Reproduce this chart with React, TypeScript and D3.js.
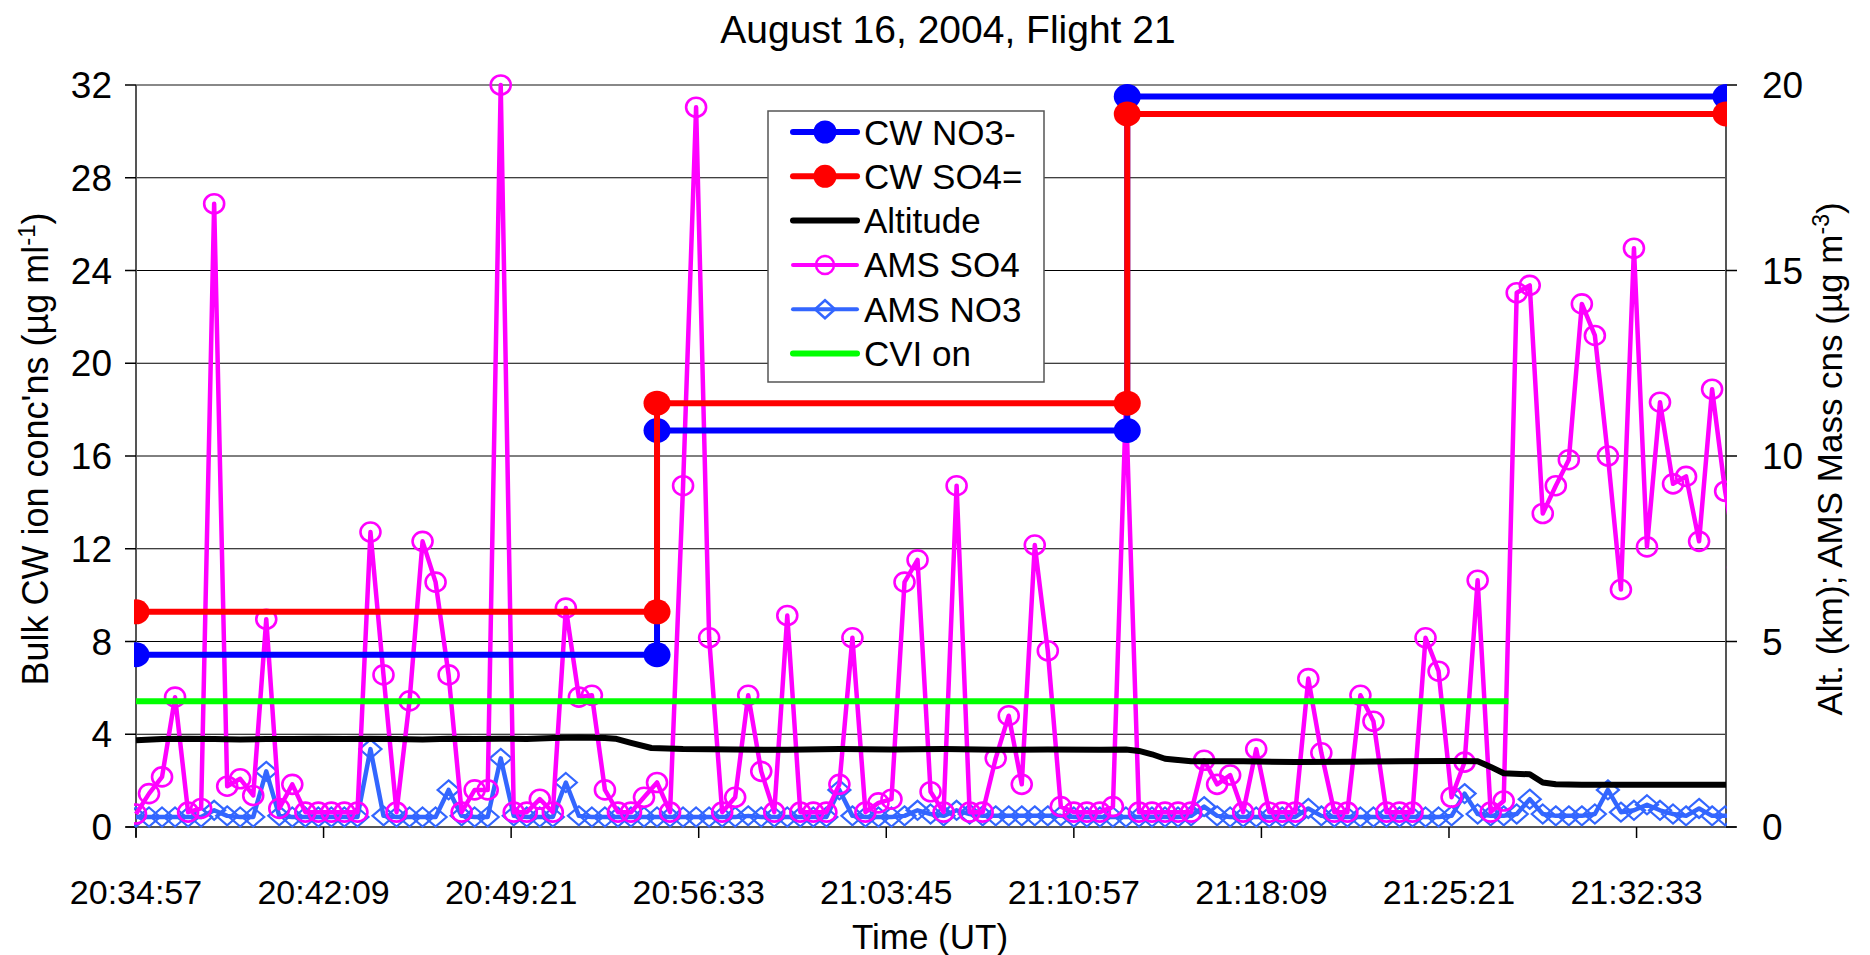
import React from "react";
import * as d3 from "d3";

// ---------------- data ----------------
const xTickLabels = ["20:34:57", "20:42:09", "20:49:21", "20:56:33", "21:03:45", "21:10:57", "21:18:09", "21:25:21", "21:32:33"];
const xDomainLabels = ["20:34:57", "21:35:59"];
const leftTicks = [0, 4, 8, 12, 16, 20, 24, 28, 32];
const rightTicks = [0, 5, 10, 15, 20];

// bulk cloud water (left axis), step changes
const cwTimes = ["20:34:57", "20:54:57", "21:13:00", "21:35:59"];
const cwNO3 = [7.43, 17.1, 31.5];
const cwSO4 = [9.28, 18.28, 30.75];

// CVI on indicator (left axis)
const cviTimes = ["20:34:57", "21:27:38"];
const cviLevel = [5.42, 5.42];

// AMS (right axis), 30 s samples starting at amsStart
const amsStart = "20:34:57";
const amsStepSec = 30;
const amsSO4 = [
  0.35, 0.9, 1.35, 3.5, 0.4, 0.5, 16.8, 1.1, 1.3, 0.85,
  5.6, 0.5, 1.15, 0.4, 0.4, 0.4, 0.4, 0.4, 7.95, 4.1,
  0.4, 3.4, 7.7, 6.6, 4.1, 0.4, 1.0, 1.0, 20.0, 0.4,
  0.4, 0.75, 0.4, 5.9, 3.5, 3.55, 1.0, 0.4, 0.4, 0.8,
  1.2, 0.4, 9.2, 19.4, 5.1, 0.4, 0.8, 3.55, 1.5, 0.4,
  5.7, 0.4, 0.4, 0.4, 1.15, 5.1, 0.4, 0.65, 0.75, 6.6,
  7.2, 0.95, 0.4, 9.2, 0.4, 0.4, 1.85, 3.0, 1.15, 7.6,
  4.75, 0.55, 0.4, 0.4, 0.4, 0.55, 11.4, 0.4, 0.4, 0.4,
  0.4, 0.4, 1.8, 1.15, 1.4, 0.4, 2.1, 0.4, 0.4, 0.4,
  4.0, 2.0, 0.4, 0.4, 3.55, 2.85, 0.4, 0.4, 0.4, 5.1,
  4.2, 0.8, 1.75, 6.65, 0.4, 0.7, 14.4, 14.6, 8.45, 9.2,
  9.9, 14.1, 13.25, 10.0, 6.4, 15.6, 7.55, 11.45, 9.25, 9.45,
  7.7, 11.8, 9.05, 7.0,
];
const amsNO3 = [
  0.27, 0.27, 0.27, 0.27, 0.27, 0.27, 0.45, 0.3, 0.27, 0.27,
  1.5, 0.3, 0.27, 0.27, 0.27, 0.27, 0.27, 0.27, 2.1, 0.3,
  0.27, 0.27, 0.27, 0.27, 1.0, 0.3, 0.27, 0.27, 1.85, 0.3,
  0.27, 0.27, 0.27, 1.2, 0.3, 0.27, 0.27, 0.27, 0.27, 0.27,
  0.27, 0.27, 0.27, 0.27, 0.27, 0.27, 0.27, 0.3, 0.27, 0.27,
  0.27, 0.27, 0.27, 0.27, 1.0, 0.3, 0.27, 0.27, 0.27, 0.3,
  0.45, 0.35, 0.3, 0.45, 0.35, 0.3, 0.3, 0.3, 0.3, 0.3,
  0.3, 0.3, 0.27, 0.27, 0.27, 0.27, 0.27, 0.27, 0.27, 0.27,
  0.27, 0.3, 0.55, 0.3, 0.27, 0.27, 0.27, 0.27, 0.27, 0.27,
  0.5, 0.3, 0.27, 0.27, 0.27, 0.27, 0.27, 0.27, 0.27, 0.27,
  0.27, 0.3, 0.9, 0.35, 0.3, 0.3, 0.35, 0.75, 0.35, 0.3,
  0.3, 0.3, 0.35, 1.0, 0.4, 0.45, 0.6, 0.45, 0.35, 0.3,
  0.5, 0.3, 0.3, 0.3,
];

// altitude (km, right axis)
const altTimes = [
  "20:34:57", "20:35:57", "20:36:57", "20:37:57", "20:38:57", "20:39:57", "20:40:57", "20:41:57",
  "20:42:57", "20:43:57", "20:44:57", "20:45:57", "20:46:57", "20:47:57", "20:48:57", "20:49:57",
  "20:50:57", "20:51:57", "20:52:57", "20:53:21", "20:53:57", "20:54:44", "20:55:57", "20:57:57",
  "20:59:57", "21:01:57", "21:03:57", "21:05:57", "21:07:57", "21:09:57", "21:11:57", "21:12:57",
  "21:13:27", "21:13:57", "21:14:27", "21:15:27", "21:17:27", "21:19:27", "21:21:27", "21:23:27",
  "21:25:27", "21:26:27", "21:26:57", "21:27:27", "21:28:27", "21:28:57", "21:29:27", "21:30:27",
  "21:32:27", "21:34:27", "21:35:59",
];
const altKm = [
  2.34, 2.37, 2.38, 2.37, 2.36, 2.37, 2.37, 2.38,
  2.37, 2.38, 2.37, 2.36, 2.38, 2.37, 2.38, 2.37,
  2.4, 2.41, 2.4, 2.38, 2.27, 2.13, 2.1, 2.09,
  2.08, 2.1, 2.09, 2.1, 2.08, 2.09, 2.08, 2.09,
  2.05, 1.96, 1.84, 1.77, 1.77, 1.75, 1.76, 1.77,
  1.78, 1.77, 1.62, 1.45, 1.42, 1.2, 1.15, 1.14,
  1.14, 1.14, 1.14,
];

// ---------------- layout ----------------
const W = 1870;
const H = 955;
const PL = 136, PR = 1726, PT = 85, PB = 827;
const FONT = "'Liberation Sans', Arial, sans-serif";

const toSec = (s: string) => {
  const [h, m, sec] = s.split(":").map(Number);
  return h * 3600 + m * 60 + sec;
};

const x = d3.scaleLinear().domain(xDomainLabels.map(toSec)).range([PL, PR]);
const yL = d3.scaleLinear().domain([0, 32]).range([PB, PT]);
const yR = d3.scaleLinear().domain([0, 20]).range([PB, PT]);

type P = [number, number];

function stepPoints(times: string[], vals: number[]): P[] {
  const pts: P[] = [];
  vals.forEach((v, i) => {
    pts.push([toSec(times[i]), v]);
    pts.push([toSec(times[i + 1]), v]);
  });
  return pts;
}

const amsT0 = toSec(amsStart);
const so4Pts: P[] = amsSO4.map((v, i) => [amsT0 + i * amsStepSec, v]);
const no3Pts: P[] = amsNO3.map((v, i) => [amsT0 + i * amsStepSec, v]);
const altPts: P[] = altKm.map((v, i) => [toSec(altTimes[i]), v]);

const lineL = d3.line<P>().x((d) => x(d[0])).y((d) => yL(d[1]));
const lineR = d3.line<P>().x((d) => x(d[0])).y((d) => yR(d[1]));

const CW_NO3_C = "#0000FF";
const CW_SO4_C = "#FF0000";
const AMS_SO4_C = "#FF00FF";
const AMS_NO3_C = "#3366FF";
const CVI_C = "#00FF00";

const diamond = (cx: number, cy: number, w = 11, h = 9.5) =>
  `M${cx},${cy - h}L${cx + w},${cy}L${cx},${cy + h}L${cx - w},${cy}Z`;

const legendItems = [
  { label: "CW NO3-", color: CW_NO3_C, marker: "dot", width: 6 },
  { label: "CW SO4=", color: CW_SO4_C, marker: "dot", width: 6 },
  { label: "Altitude", color: "#000000", marker: "none", width: 6 },
  { label: "AMS SO4", color: AMS_SO4_C, marker: "circle", width: 4 },
  { label: "AMS NO3", color: AMS_NO3_C, marker: "diamond", width: 4 },
  { label: "CVI on", color: CVI_C, marker: "none", width: 6 },
];

export default function App() {
  const no3Step = stepPoints(cwTimes, cwNO3);
  const so4Step = stepPoints(cwTimes, cwSO4);
  const cviPts: P[] = cviLevel.map((v, i) => [toSec(cviTimes[i]), v]);

  return (
    <svg
      width={W}
      height={H}
      style={{ position: "absolute", left: 0, top: 0, background: "#fff" }}
      fontFamily={FONT}
    >
      <rect x={0} y={0} width={W} height={H} fill="#fff" />
      <defs>
        <clipPath id="plot">
          <rect x={PL - 2} y={PT - 20} width={PR - PL + 3} height={PB - PT + 40} />
        </clipPath>
      </defs>

      {/* title */}
      <text x={948} y={43} textAnchor="middle" fontSize={39}>
        August 16, 2004, Flight 21
      </text>

      {/* gridlines */}
      {leftTicks.slice(1).map((t) => (
        <line key={"g" + t} x1={PL} x2={PR} y1={yL(t)} y2={yL(t)} stroke={t === 32 ? "#888" : "#000"} strokeWidth={t === 32 ? 2 : 1} />
      ))}

      {/* axes */}
      <line x1={PL} x2={PL} y1={PT} y2={PB + 10} stroke="#555" strokeWidth={2} />
      <line x1={PR} x2={PR} y1={PT} y2={PB} stroke="#555" strokeWidth={2} />
      <line x1={PL - 10} x2={PR + 10} y1={PB} y2={PB} stroke="#555" strokeWidth={2} />
      {leftTicks.map((t) => (
        <g key={"lt" + t}>
          <line x1={PL - 11} x2={PL} y1={yL(t)} y2={yL(t)} stroke="#000" strokeWidth={1.5} />
          <text x={112} y={yL(t) + 13} textAnchor="end" fontSize={37}>
            {t}
          </text>
        </g>
      ))}
      {rightTicks.map((t) => (
        <g key={"rt" + t}>
          <line x1={PR} x2={PR + 11} y1={yR(t)} y2={yR(t)} stroke="#000" strokeWidth={1.5} />
          <text x={1762} y={yR(t) + 13} textAnchor="start" fontSize={37}>
            {t}
          </text>
        </g>
      ))}
      {xTickLabels.map((l) => (
        <g key={"xt" + l}>
          <line x1={x(toSec(l))} x2={x(toSec(l))} y1={PB} y2={PB + 11} stroke="#000" strokeWidth={1.5} />
          <text x={x(toSec(l))} y={904} textAnchor="middle" fontSize={34}>
            {l}
          </text>
        </g>
      ))}

      {/* axis titles */}
      <text x={930} y={949} textAnchor="middle" fontSize={35}>
        Time (UT)
      </text>
      <text transform="translate(48,449) rotate(-90)" textAnchor="middle" fontSize={36}>
        Bulk CW ion conc'ns (µg ml
        <tspan dy={-13} fontSize={24}>-1</tspan>
        <tspan dy={13}>)</tspan>
      </text>
      <text transform="translate(1842,459) rotate(-90)" textAnchor="middle" fontSize={35}>
        Alt.  (km); AMS Mass cns (µg m
        <tspan dy={-13} fontSize={23}>-3</tspan>
        <tspan dy={13}>)</tspan>
      </text>

      <g clipPath="url(#plot)">
        {/* AMS NO3 */}
        <path d={lineR(no3Pts) || ""} fill="none" stroke={AMS_NO3_C} strokeWidth={4.5} strokeLinejoin="round" />
        {no3Pts.map((d, i) => (
          <path key={"dn" + i} d={diamond(x(d[0]), yR(d[1]))} fill="none" stroke={AMS_NO3_C} strokeWidth={2.2} />
        ))}
        {/* AMS SO4 */}
        <path d={lineR(so4Pts) || ""} fill="none" stroke={AMS_SO4_C} strokeWidth={4.5} strokeLinejoin="round" />
        {so4Pts.map((d, i) => (
          <ellipse key={"cs" + i} cx={x(d[0])} cy={yR(d[1])} rx={10} ry={9.5} fill="none" stroke={AMS_SO4_C} strokeWidth={2.6} />
        ))}
        {/* altitude */}
        <path d={lineR(altPts) || ""} fill="none" stroke="#000" strokeWidth={6} strokeLinejoin="round" />
        {/* CVI */}
        <path d={lineL(cviPts) || ""} fill="none" stroke={CVI_C} strokeWidth={6} />
        {/* CW NO3 */}
        <path d={lineL(no3Step) || ""} fill="none" stroke={CW_NO3_C} strokeWidth={6} />
        {no3Step.map((d, i) => (
          <ellipse key={"bn" + i} cx={x(d[0])} cy={yL(d[1])} rx={13.5} ry={12.5} fill={CW_NO3_C} />
        ))}
        {/* CW SO4 */}
        <path d={lineL(so4Step) || ""} fill="none" stroke={CW_SO4_C} strokeWidth={6} />
        {so4Step.map((d, i) => (
          <ellipse key={"bs" + i} cx={x(d[0])} cy={yL(d[1])} rx={13.5} ry={12.5} fill={CW_SO4_C} />
        ))}
      </g>

      {/* legend */}
      <g>
        <rect x={768} y={111} width={276} height={271} fill="#fff" stroke="#555" strokeWidth={1.5} />
        {legendItems.map((it, i) => {
          const cy = 132 + i * 44.3;
          return (
            <g key={"lg" + i}>
              <line x1={793} x2={857} y1={cy} y2={cy} stroke={it.color} strokeWidth={it.width} strokeLinecap="round" />
              {it.marker === "dot" && <circle cx={825} cy={cy} r={11.5} fill={it.color} />}
              {it.marker === "circle" && <circle cx={825} cy={cy} r={9} fill="none" stroke={it.color} strokeWidth={2.5} />}
              {it.marker === "diamond" && <path d={diamond(825, cy, 10, 9)} fill="none" stroke={it.color} strokeWidth={2.5} />}
              <text x={864} y={cy + 12.5} fontSize={35}>
                {it.label}
              </text>
            </g>
          );
        })}
      </g>
    </svg>
  );
}
